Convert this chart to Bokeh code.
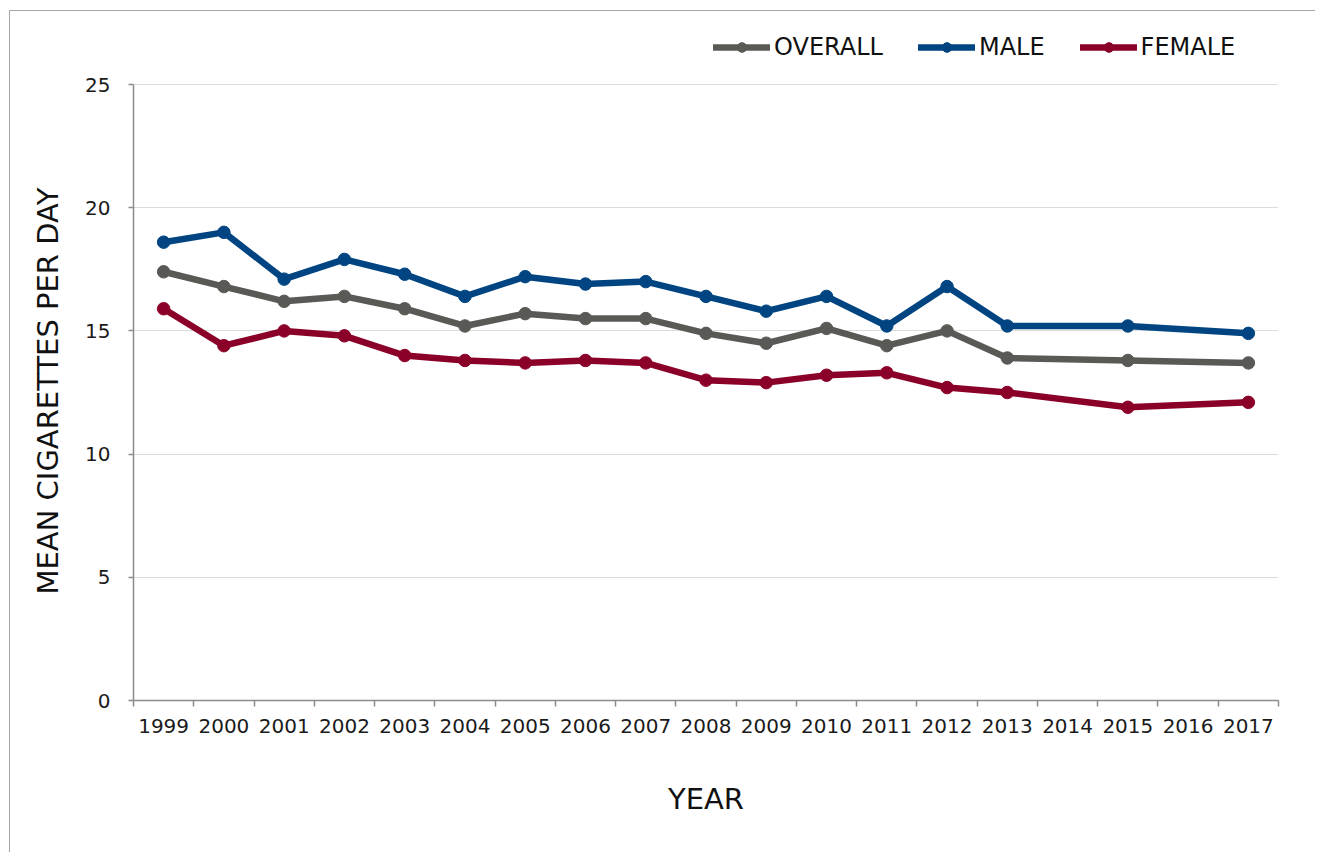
from bokeh.plotting import figure
from bokeh.models import Range1d, FixedTicker, Legend, LegendItem, NumeralTickFormatter, Title
from bokeh.embed import file_html
from bokeh.resources import INLINE

# ---- data ----
all_years = [1999, 2000, 2001, 2002, 2003, 2004, 2005, 2006, 2007, 2008,
             2009, 2010, 2011, 2012, 2013, 2014, 2015, 2016, 2017]
years = [1999, 2000, 2001, 2002, 2003, 2004, 2005, 2006, 2007, 2008,
         2009, 2010, 2011, 2012, 2013, 2015, 2017]
overall = [17.4, 16.8, 16.2, 16.4, 15.9, 15.2, 15.7, 15.5, 15.5, 14.9,
           14.5, 15.1, 14.4, 15.0, 13.9, 13.8, 13.7]
male = [18.6, 19.0, 17.1, 17.9, 17.3, 16.4, 17.2, 16.9, 17.0, 16.4,
        15.8, 16.4, 15.2, 16.8, 15.2, 15.2, 14.9]
female = [15.9, 14.4, 15.0, 14.8, 14.0, 13.8, 13.7, 13.8, 13.7, 13.0,
          12.9, 13.2, 13.3, 12.7, 12.5, 11.9, 12.1]
series_names = ["OVERALL", "MALE", "FEMALE"]
y_ticks = [0, 5, 10, 15, 20, 25]
y_label = "MEAN CIGARETTES PER DAY"
x_label = "YEAR"

colors = ["#595a56", "#004581", "#8b0029"]
FONT = "DejaVu Sans"

# headroom above the top tick so the legend sits inside the frame
y_top = y_ticks[-1] + 54 / 24.64

p = figure(width=1306, height=842, output_backend="svg", toolbar_location=None,
           x_range=Range1d(all_years[0] - 0.5, all_years[-1] + 0.5),
           y_range=Range1d(y_ticks[0], y_top),
           min_border_left=123, min_border_right=38,
           min_border_top=19, min_border_bottom=153)
p.styles = {"border-left": "1px solid #a6a6a6", "border-top": "1px solid #a6a6a6",
            "margin-left": "9px", "margin-top": "10px"}
p.outline_line_color = None
p.background_fill_color = "white"
p.border_fill_color = "white"

items = []
for name, vals, c in zip(series_names, [overall, male, female], colors):
    ln = p.line(years, vals, line_color=c, line_width=6.5, line_cap="round", line_join="round")
    sc = p.scatter(years, vals, size=12.5, fill_color=c, line_color=c, marker="circle")
    items.append(LegendItem(label=name, renderers=[ln, sc]))

# x axis: labels at centres, tick marks at category boundaries
bounds = [y - 0.5 for y in all_years] + [all_years[-1] + 0.5]
xax = p.xaxis[0]
xax.ticker = FixedTicker(ticks=all_years, minor_ticks=bounds)
xax.formatter = NumeralTickFormatter(format="0")
xax.major_tick_out = 0
xax.major_tick_in = 0
xax.minor_tick_out = 6
xax.minor_tick_in = 0
xax.minor_tick_line_color = "#8c8c8c"
xax.minor_tick_line_width = 1.5
xax.axis_line_color = "#8c8c8c"
xax.axis_line_width = 1.5
xax.major_label_text_font = FONT
xax.major_label_text_font_size = "20px"
xax.major_label_text_color = "#1a1a1a"
xax.major_label_standoff = 12
xax.axis_label = x_label
xax.axis_label_text_font = FONT
xax.axis_label_text_font_size = "29px"
xax.axis_label_text_font_style = "normal"
xax.axis_label_text_color = "#111111"
xax.axis_label_standoff = 46

yax = p.yaxis[0]
yax.ticker = FixedTicker(ticks=y_ticks)
yax.bounds = (y_ticks[0], y_ticks[-1])
yax.minor_tick_out = 0
yax.minor_tick_in = 0
yax.major_tick_out = 5
yax.major_tick_in = 0
yax.major_tick_line_color = "#8c8c8c"
yax.major_tick_line_width = 1.5
yax.axis_line_color = "#8c8c8c"
yax.axis_line_width = 1.5
yax.major_label_text_font = FONT
yax.major_label_text_font_size = "20px"
yax.major_label_text_color = "#1a1a1a"
yax.major_label_standoff = 18

# y-axis title, centred on the 0-25 span rather than on the taller frame
ytitle = Title(text=y_label, align="left", offset=106, standoff=35,
               text_font=FONT, text_font_size="29px", text_font_style="normal",
               text_color="#111111")
p.add_layout(ytitle, "left")

p.xgrid.grid_line_color = None
p.ygrid.ticker = FixedTicker(ticks=y_ticks)
p.ygrid.grid_line_color = "#dcdcdc"
p.ygrid.grid_line_width = 1

legend = Legend(items=items, orientation="horizontal", location=(580, 639),
                glyph_width=57, glyph_height=24, label_height=24,
                label_standoff=4, spacing=35, padding=0, margin=0,
                border_line_color=None, background_fill_alpha=0,
                label_text_font=FONT, label_text_font_size="24px",
                label_text_color="#111111")
p.add_layout(legend, "center")

open("out.html", "w").write(file_html(p, INLINE))
